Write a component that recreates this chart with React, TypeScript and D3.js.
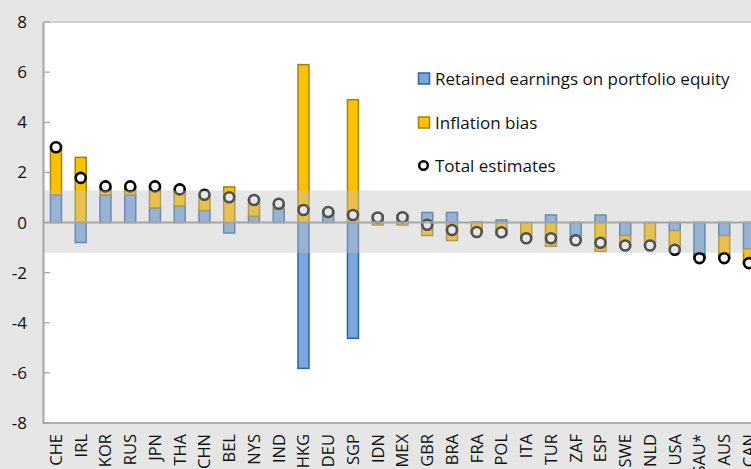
import React from "react";
import * as d3 from "d3";

const categories = ["CHE","IRL","KOR","RUS","JPN","THA","CHN","BEL","NYS","IND","HKG","DEU","SGP","IDN","MEX","GBR","BRA","FRA","POL","ITA","TUR","ZAF","ESP","SWE","NLD","USA","SAU*","AUS","CAN"];
const retained = [1.1,-0.8,1.1,1.1,0.58,0.66,0.48,-0.42,0.25,0.55,-5.82,0.36,-4.62,0.3,0.3,0.4,0.4,0.02,0.1,0.0,0.3,-0.55,0.3,-0.52,0.0,-0.32,-1.42,-0.52,-1.05];
const inflation = [1.9,2.6,0.32,0.32,0.87,0.66,0.63,1.42,0.65,0.2,6.3,0.08,4.9,-0.1,-0.1,-0.52,-0.72,-0.4,-0.5,-0.65,-0.95,-0.15,-1.15,-0.4,-0.92,-0.78,0.0,-0.9,-0.6];
const totals = [3.0,1.78,1.44,1.44,1.44,1.32,1.11,1.01,0.9,0.75,0.5,0.42,0.3,0.2,0.21,-0.09,-0.3,-0.38,-0.39,-0.63,-0.63,-0.71,-0.81,-0.92,-0.92,-1.09,-1.42,-1.42,-1.62];
const yTicks = [-8,-6,-4,-2,0,2,4,6,8];
const legendLabels = ["Retained earnings on portfolio equity","Inflation bias","Total estimates"];
const bandRange = [-1.21, 1.28];

const W = 751, H = 469;
const FONT = "'Open Sans', 'Noto Sans', sans-serif";
const FS = 17;
const CAT_FS = 16.5;

export default function App() {
  const left = 43.6;
  const step = 24.75;
  const x = d3.scaleBand<string>().domain(categories).range([left, left + step * categories.length]).padding(0);
  const y = d3.scaleLinear().domain([-8, 8]).range([423, 22]);
  const barW = 11;

  const rows = categories.map((c, i) => ({ cat: c, retained: retained[i], inflation: inflation[i] }));
  const stack = d3.stack<any>().keys(["retained", "inflation"]).offset(d3.stackOffsetDiverging);
  const series = stack(rows);
  const fills = ["#7ba7e0", "#ffc000"];
  const strokes = ["#2a64ad", "#a3810f"];

  const cx = (c: string) => (x(c) as number) + x.bandwidth() / 2;

  return (
    <svg width={W} height={H} style={{ position: "absolute", left: 0, top: 0, fontFamily: FONT }}>
      <rect x={0} y={0} width={W} height={H} fill="#e6e6e6" />
      <rect x={44} y={22} width={W - 44} height={401} fill="#ffffff" />
      <line x1={44} x2={W} y1={22} y2={22} stroke="#c4c4c4" strokeWidth={1.5} />
      {series.map((s, si) => (
        <g key={si}>
          {s.map((d: any, i: number) => {
            const y0 = y(d[0]), y1 = y(d[1]);
            const top = Math.min(y0, y1), h = Math.abs(y1 - y0);
            if (h < 0.3) return null;
            return (
              <rect key={i} x={cx(categories[i]) - barW / 2} y={top} width={barW} height={h}
                fill={fills[si]} stroke={strokes[si]} strokeWidth={1.5} />
            );
          })}
        </g>
      ))}
      {totals.map((t, i) => (
        <circle key={i} cx={cx(categories[i])} cy={y(t)} r={5} fill="#ffffff" stroke="#000000" strokeWidth={2.6} />
      ))}
      <rect x={44} y={y(bandRange[1])} width={W - 44} height={y(bandRange[0]) - y(bandRange[1])}
        fill="rgb(195,195,195)" fillOpacity={0.41} />
      <line x1={44} x2={W} y1={y(0)} y2={y(0)} stroke="#a6a6a6" strokeWidth={2} />
      <line x1={44} x2={W} y1={423} y2={423} stroke="#b0b0b0" strokeWidth={2} />
      <line x1={43.5} x2={43.5} y1={22} y2={424} stroke="#a6a6a6" strokeWidth={2} />
      {yTicks.map((t) => (
        <g key={t}>
          <line x1={44} x2={50} y1={y(t)} y2={y(t)} stroke="#a6a6a6" strokeWidth={1.2} />
          <text x={27} y={y(t)} dy="0.36em" textAnchor="end" fontSize={FS} fill="#111">{t}</text>
        </g>
      ))}
      {categories.map((c) => (
        <text key={c} transform={`translate(${cx(c) + 6},434) rotate(-90)`} textAnchor="end" fontSize={CAT_FS} fill="#111">{c}</text>
      ))}
      <g>
        <rect x={418.5} y={73} width={11} height={11} fill={fills[0]} stroke={strokes[0]} strokeWidth={1.5} />
        <text x={435} y={85} fontSize={FS} fill="#111">{legendLabels[0]}</text>
        <rect x={418.5} y={117} width={11} height={11} fill={fills[1]} stroke={strokes[1]} strokeWidth={1.5} />
        <text x={435} y={129} fontSize={FS} fill="#111">{legendLabels[1]}</text>
        <circle cx={423.5} cy={165.5} r={4.3} fill="#fff" stroke="#000" strokeWidth={2.5} />
        <text x={435} y={171.5} fontSize={FS} fill="#111">{legendLabels[2]}</text>
      </g>
    </svg>
  );
}
